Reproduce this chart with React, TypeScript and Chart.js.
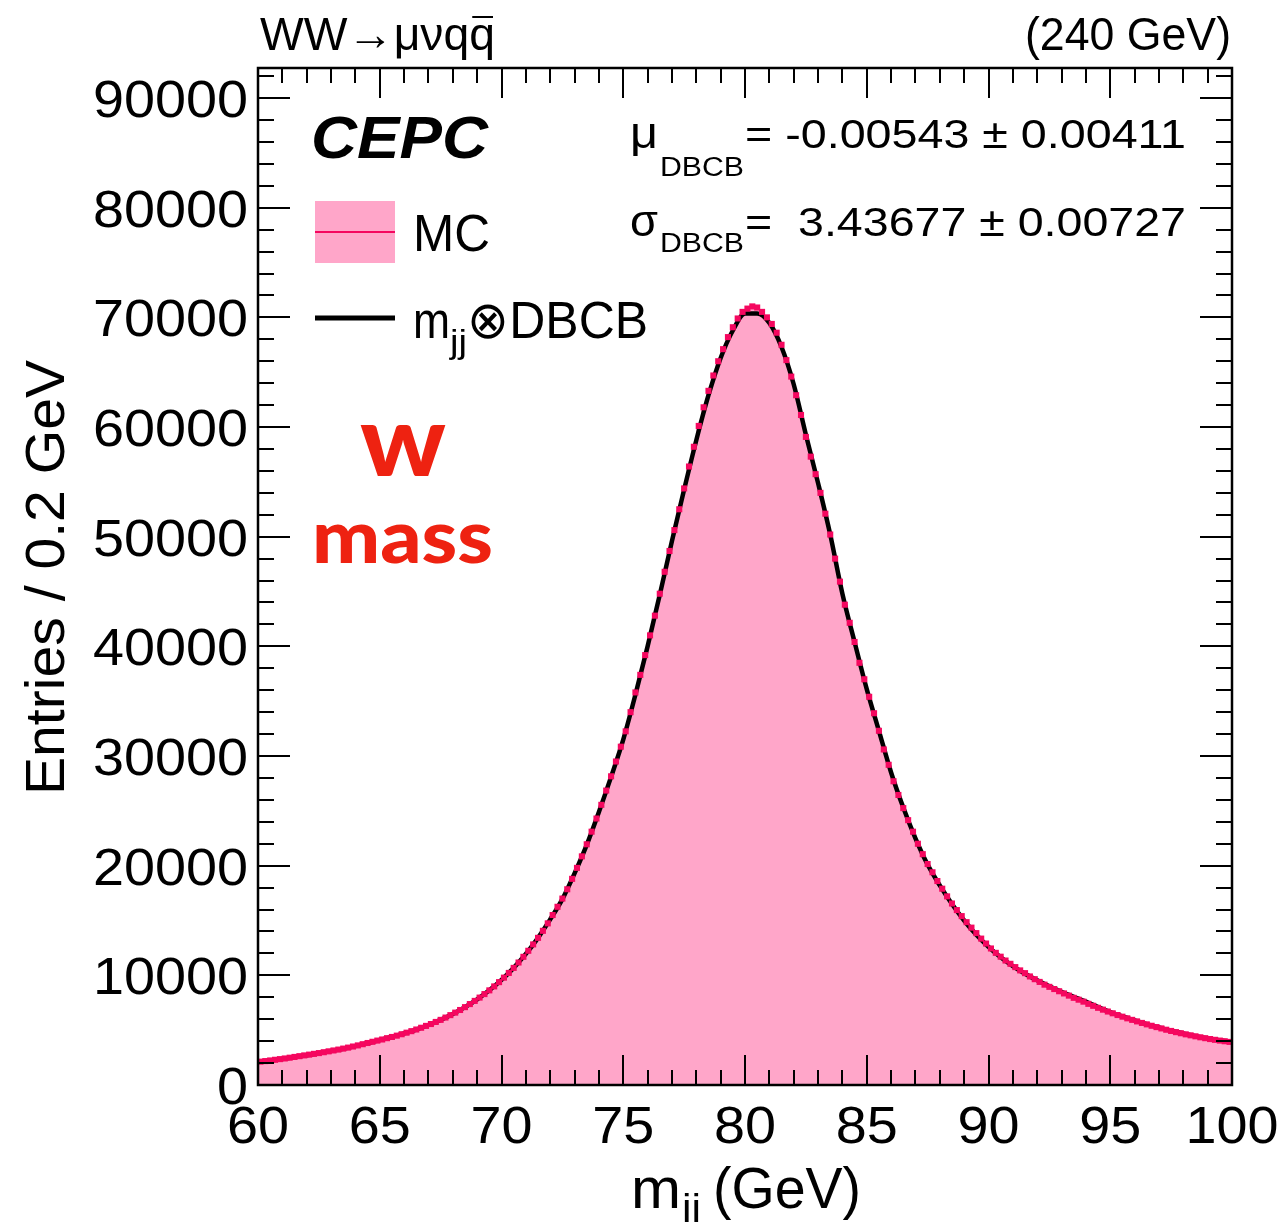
import React, { useEffect, useRef } from "react";
import { Chart, registerables } from "chart.js";

Chart.register(...registerables);

// ---------- data ----------
const BIN_LOW = 60;
const BIN_WIDTH = 0.2;

// MC entries per 0.2 GeV bin, 60.0 .. 100.0 GeV (200 bins)
const MC_COUNTS = [
  2130, 2180, 2240, 2300, 2360, 2420, 2490, 2560, 2630, 2700,
  2770, 2840, 2910, 2990, 3070, 3150, 3230, 3320, 3410, 3510,
  3610, 3720, 3830, 3940, 4050, 4150, 4270, 4380, 4500, 4630,
  4770, 4910, 5060, 5220, 5390, 5560, 5750, 5940, 6150, 6370,
  6600, 6840, 7100, 7380, 7670, 7970, 8290, 8630, 8990, 9380,
  9790, 10220, 10680, 11170, 11690, 12240, 12820, 13420, 14060, 14740,
  15500, 16250, 17000, 17850, 18800, 19800, 20850, 21950, 23100, 24300,
  25550, 26850, 28150, 29500, 30850, 32250, 34000, 35800, 37400, 39200,
  41000, 42800, 44800, 46800, 48700, 50600, 52500, 54400, 56400, 58200,
  60100, 61800, 63300, 64700, 66000, 67100, 68200, 69100, 69900, 70500,
  70800, 71000, 70900, 70500, 70000, 69400, 68600, 67500, 66100, 64600,
  62900, 61100, 59100, 57300, 55700, 54000, 52100, 50200, 48000, 45900,
  43800, 42150, 40400, 38500, 37000, 35400, 33900, 32300, 30600, 29200,
  27700, 26450, 25250, 24150, 23100, 22000, 21050, 20150, 19400, 18600,
  17900, 17200, 16550, 15950, 15400, 14850, 14350, 13850, 13350, 12900,
  12450, 12050, 11700, 11350, 11050, 10750, 10450, 10200, 9900, 9650,
  9400, 9150, 8950, 8750, 8550, 8350, 8150, 7950, 7780, 7600,
  7400, 7220, 7040, 6870, 6700, 6540, 6380, 6230, 6080, 5940,
  5800, 5660, 5530, 5400, 5280, 5160, 5040, 4930, 4820, 4720,
  4620, 4530, 4440, 4350, 4270, 4190, 4120, 4050, 3990, 3930,
];

// fitted m_jj (x) DBCB curve, sampled every 0.5 GeV from 60 to 100
const FIT_START = 60;
const FIT_STEP = 0.5;
const FIT_VALUES = [
  2100, 2230, 2380, 2550, 2720, 2900, 3100, 3310, 3550, 3810,
  4100, 4400, 4700, 5060, 5470, 5940, 6480, 7100, 7810, 8630,
  9580, 10680, 11950, 13420, 15100, 16950, 19300, 21900, 24900, 28100,
  31500, 35600, 40000, 44700, 49600, 54300, 58800, 62900, 66300, 68800,
  70350, 70350, 69500, 67300, 63900, 59300, 54900, 50200, 44800, 40400,
  36100, 32300, 28500, 25300, 22500, 20100, 18200, 16500, 15000, 13700,
  12600, 11650, 10850, 10150, 9550, 9000, 8500, 8050, 7600, 7100,
  6650, 6250, 5900, 5550, 5250, 4950, 4700, 4450, 4250, 4080,
  3920,
];

const X_TICKS = [60, 65, 70, 75, 80, 85, 90, 95, 100];
const Y_TICKS = [0, 10000, 20000, 30000, 40000, 50000, 60000, 70000, 80000, 90000];
const X_MIN = 60;
const X_MAX = 100;
const Y_MIN = 0;
const Y_MAX = 92740;
const X_MINOR_STEP = 1;
const Y_MINOR_STEP = 2000;

const STATS = [
  { sym: "\u03bc", value: "= -0.00543 \u00b1 0.00411" },
  { sym: "\u03c3", value: "=  3.43677 \u00b1 0.00727" },
];

// ---------- style ----------
const PINK = "#ffa6c9";
const CRIMSON = "#f5075f";
const RED = "#ee2211";
const FONT = '"Liberation Sans", Arial, Helvetica, sans-serif';
const OFF = 8; // canvas offset from page (body margin)

function drawText(
  ctx: CanvasRenderingContext2D,
  text: string,
  left: number,
  baseline: number,
  font: string,
  width?: number,
  color = "#000"
) {
  ctx.save();
  ctx.font = font;
  ctx.fillStyle = color;
  ctx.textAlign = "left";
  ctx.textBaseline = "alphabetic";
  const w = ctx.measureText(text).width;
  const sx = width ? width / w : 1;
  ctx.translate(left - OFF, baseline - OFF);
  ctx.scale(sx, 1);
  ctx.fillText(text, 0, 0);
  ctx.restore();
  return w * sx;
}

const decorPlugin = {
  id: "decor",
  afterDatasetsDraw(chart: any) {
    const { ctx, chartArea: a } = chart;
    const xs = chart.scales.x;
    const ys = chart.scales.y;
    ctx.save();
    ctx.strokeStyle = "#000";
    ctx.lineWidth = 2;
    ctx.beginPath();
    const nx = Math.round((X_MAX - X_MIN) / X_MINOR_STEP);
    for (let k = 0; k <= nx; k++) {
      const v = X_MIN + k * X_MINOR_STEP;
      const px = Math.round(xs.getPixelForValue(v));
      const len = X_TICKS.includes(v) ? 30 : 15;
      ctx.moveTo(px, a.bottom);
      ctx.lineTo(px, a.bottom - len);
      ctx.moveTo(px, a.top);
      ctx.lineTo(px, a.top + len);
    }
    for (let k = 0; Y_MIN + k * Y_MINOR_STEP <= Y_MAX; k++) {
      const v = Y_MIN + k * Y_MINOR_STEP;
      const py = Math.round(ys.getPixelForValue(v));
      const len = Y_TICKS.includes(v) ? 32 : 16;
      ctx.moveTo(a.left, py);
      ctx.lineTo(a.left + len, py);
      ctx.moveTo(a.right, py);
      ctx.lineTo(a.right - len, py);
    }
    ctx.stroke();
    ctx.lineWidth = 2.5;
    ctx.strokeRect(a.left, a.top, a.right - a.left, a.bottom - a.top);
    ctx.restore();
  },
  afterDraw(chart: any) {
    const { ctx } = chart;
    const xs = chart.scales.x;
    const ys = chart.scales.y;
    const f = (size: number, extra = "") => `${extra} ${size}px ${FONT}`.trim();

    // tick labels
    Y_TICKS.forEach((v) => {
      const s = String(v);
      const w = s.length * 31;
      const py = ys.getPixelForValue(v) + OFF;
      drawText(ctx, s, 248 - w, py + 19, f(52), w);
    });
    X_TICKS.forEach((v) => {
      const s = String(v);
      const w = s.length * 31;
      const px = xs.getPixelForValue(v) + OFF;
      drawText(ctx, s, px - w / 2, 1143, f(52), w);
    });

    // axis titles
    drawText(ctx, "m", 631, 1208, f(58), 50);
    drawText(ctx, "jj", 682, 1221, f(38), 19);
    drawText(ctx, "(GeV)", 713, 1208, f(58), 148);

    ctx.save();
    ctx.font = f(56);
    ctx.fillStyle = "#000";
    const yt = "Entries / 0.2 GeV";
    const ytw = ctx.measureText(yt).width;
    ctx.translate(64 - OFF, 795 - OFF);
    ctx.rotate(-Math.PI / 2);
    ctx.scale(435 / ytw, 1);
    ctx.fillText(yt, 0, 0);
    ctx.restore();

    // top labels
    const t1 = "WW\u2192\u03bc\u03bdqq";
    ctx.save();
    ctx.font = f(46);
    const full = ctx.measureText(t1).width;
    const lastQ = ctx.measureText("q").width;
    ctx.restore();
    const sx1 = 235 / full;
    drawText(ctx, t1, 260, 50, f(46), 235);
    ctx.save();
    ctx.strokeStyle = "#000";
    ctx.lineWidth = 2;
    ctx.beginPath();
    const qLeft = 260 + 235 - lastQ * sx1;
    ctx.moveTo(qLeft + 3 - OFF, 17 - OFF);
    ctx.lineTo(260 + 235 - 2 - OFF, 17 - OFF);
    ctx.stroke();
    ctx.restore();
    drawText(ctx, "(240 GeV)", 1025, 50, f(46), 206);

    // CEPC
    drawText(ctx, "CEPC", 311, 158, f(60, "italic bold"), 177);

    // stats
    const statBase = [148, 236];
    const subBase = [176, 252];
    STATS.forEach((s, i) => {
      drawText(ctx, s.sym, 630, statBase[i], f(44), 28);
      drawText(ctx, "DBCB", 660, subBase[i], f(27), 84);
      drawText(ctx, s.value, 745, statBase[i], f(40), 441);
    });

    // legend
    ctx.save();
    ctx.fillStyle = PINK;
    ctx.fillRect(315 - OFF, 201 - OFF, 80, 62);
    ctx.strokeStyle = CRIMSON;
    ctx.lineWidth = 2;
    ctx.beginPath();
    ctx.moveTo(315 - OFF, 232 - OFF);
    ctx.lineTo(395 - OFF, 232 - OFF);
    ctx.stroke();
    ctx.strokeStyle = "#000";
    ctx.lineWidth = 5;
    ctx.beginPath();
    ctx.moveTo(315 - OFF, 318 - OFF);
    ctx.lineTo(395 - OFF, 318 - OFF);
    ctx.stroke();
    ctx.restore();
    drawText(ctx, "MC", 413, 251, f(52), 77);
    drawText(ctx, "m", 413, 338, f(52), 37);
    drawText(ctx, "jj", 450, 353, f(34), 17);
    drawText(ctx, "\u2297DBCB", 467, 338, f(52), 181);

    // W mass
    const heavy = (s: number) => `900 ${s}px Lato, "Open Sans", sans-serif`;
    drawText(ctx, "w", 360, 476, heavy(100), 86, RED);
    drawText(ctx, "mass", 312, 563, heavy(74), 181, RED);
  },
};

export default function App() {
  const ref = useRef<HTMLCanvasElement>(null);

  useEffect(() => {
    const canvas = ref.current;
    if (!canvas) return;

    const histEdges = MC_COUNTS.map((v, i) => ({ x: BIN_LOW + i * BIN_WIDTH, y: v }));
    histEdges.push({
      x: BIN_LOW + MC_COUNTS.length * BIN_WIDTH,
      y: MC_COUNTS[MC_COUNTS.length - 1],
    });
    const markers = MC_COUNTS.map((v, i) => ({ x: BIN_LOW + (i + 0.5) * BIN_WIDTH, y: v }));
    const fit = FIT_VALUES.map((v, i) => ({ x: FIT_START + i * FIT_STEP, y: v }));

    const chart = new Chart(canvas, {
      type: "line",
      data: {
        datasets: [
          {
            label: "MC",
            data: histEdges,
            stepped: "before",
            fill: "origin",
            backgroundColor: PINK,
            borderColor: "rgba(0,0,0,0)",
            borderWidth: 0,
            pointRadius: 0,
            order: 3,
          },
          {
            label: "fit",
            data: fit,
            borderColor: "#000",
            borderWidth: 4.5,
            pointRadius: 0,
            fill: false,
            cubicInterpolationMode: "monotone",
            order: 2,
          },
          {
            label: "MC points",
            data: markers,
            showLine: false,
            pointStyle: "rect",
            pointRadius: 4.3,
            pointBackgroundColor: CRIMSON,
            pointBorderWidth: 0,
            pointBorderColor: CRIMSON,
            fill: false,
            order: 1,
          },
        ],
      },
      options: {
        responsive: false,
        animation: false,
        devicePixelRatio: 1,
        layout: { padding: { left: 250, top: 60, right: 46, bottom: 137 } },
        plugins: { legend: { display: false }, tooltip: { enabled: false } },
        scales: {
          x: { type: "linear", min: X_MIN, max: X_MAX, display: false },
          y: { type: "linear", min: Y_MIN, max: Y_MAX, display: false },
        },
      },
      plugins: [decorPlugin],
    } as any);

    return () => chart.destroy();
  }, []);

  return (
    <canvas
      ref={ref}
      width={1270}
      height={1214}
      style={{ display: "block", width: 1270, height: 1214 }}
    />
  );
}
